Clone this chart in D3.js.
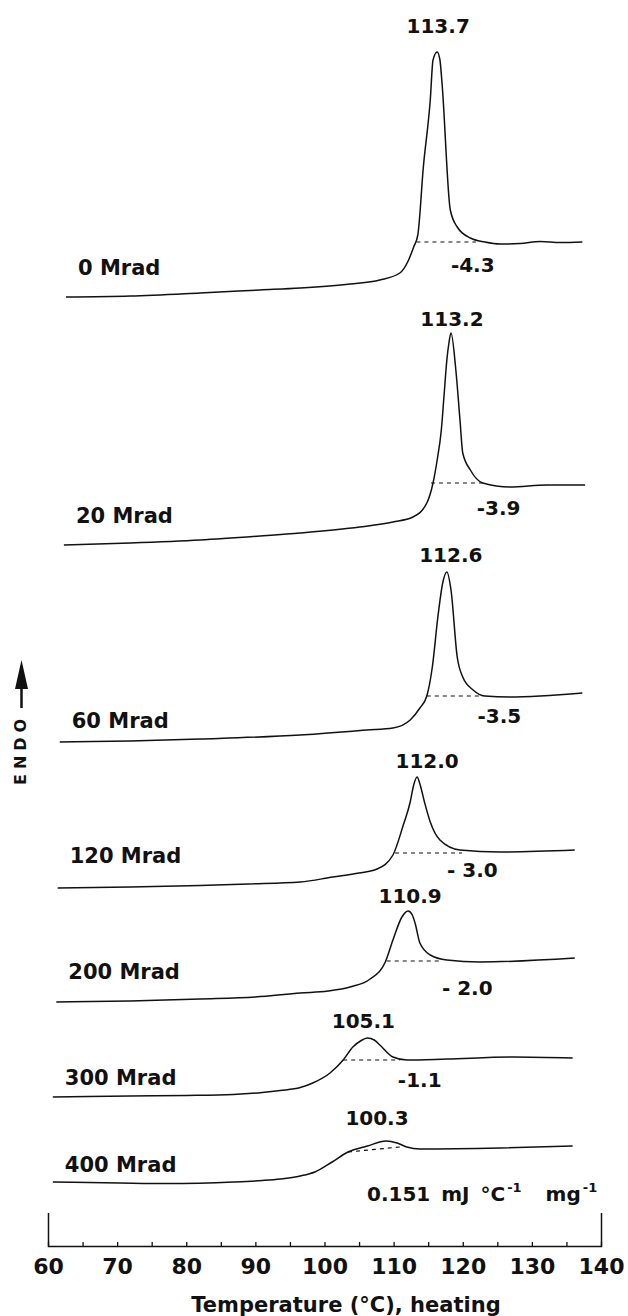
<!DOCTYPE html>
<html><head><meta charset="utf-8">
<script src="https://cdn.jsdelivr.net/npm/d3@7"></script>
<style>
body{margin:0;background:#fff}
svg{display:block}
text{font-family:"DejaVu Sans",sans-serif;font-weight:bold;fill:#111}
</style>
</head><body>
<svg id="chart" width="628" height="1316"></svg>
<script>
// ---------------- DATA ----------------
const doses = ["0 Mrad","20 Mrad","60 Mrad","120 Mrad","200 Mrad","300 Mrad","400 Mrad"];
const peakLabels = ["113.7","113.2","112.6","112.0","110.9","105.1","100.3"];
const enthalpyLabels = ["-4.3","-3.9","-3.5","- 3.0","- 2.0","-1.1"];
// vertical stacking offset of each trace (arbitrary heat-flow units)
const curveOffsets = [94.9, 70.1, 50.4, 35.8, 24.4, 14.9, 6.4];

const temps0 = [62.6,71.9,82.0,90.7,96.5,103.7,108.0,110.9,112.1,112.9,113.5,114.3,115.3,115.7,116.3,116.7,117.0,118.2,119.2,121.1,123.2,125.4,128.3,131.2,134.1,137.3];
const flow0  = [0,0.1,0.4,0.7,0.9,1.3,1.7,2.4,3.6,5.0,6.2,13.0,19.7,23.7,24.5,23.7,21.4,8.7,7.0,5.9,5.5,5.3,5.35,5.55,5.45,5.5];

const temps1 = [62.3,71.9,82.0,90.7,96.5,105.1,109.9,112.8,114.8,115.7,116.3,116.9,117.3,117.7,118.0,118.3,119.0,119.6,120.0,121.1,122.9,126.8,132.2,137.7];
const flow1  = [0,0.2,0.5,0.9,1.2,1.8,2.3,2.8,4.2,6.2,8.5,11.5,15.0,18.5,20.2,21.2,17.5,12.5,9.2,7.5,6.2,5.8,6.0,6.0];

const temps2 = [61.7,71.9,82.0,96.5,106.1,109.9,112.4,113.8,114.8,115.6,116.4,117.1,117.7,118.3,119.2,120.0,121.5,123.2,126.8,137.3];
const flow2  = [0,0.1,0.3,0.7,1.2,1.4,2.2,3.4,4.6,7.5,12.5,15.9,17.0,15.2,8.5,6.5,5.2,4.6,4.5,4.9];

const temps3 = [61.4,71.9,82.0,89.0,96.5,101.2,105.0,107.6,109.9,111.4,112.4,112.9,113.4,113.8,114.5,115.3,116.7,119.6,125.4,136.2];
const flow3  = [0,0.1,0.25,0.4,0.6,1.1,1.5,1.9,3.3,6.3,8.6,10.3,11.1,10.4,8.5,6.6,4.8,3.8,3.6,3.8];

const temps4 = [61.2,71.9,82.0,90.0,96.5,100.5,103.7,106.6,108.8,109.9,111.2,112.1,112.7,113.1,113.8,115.3,117.7,122.5,136.2];
const flow4  = [0,0.1,0.3,0.5,0.9,1.1,1.5,2.3,4.0,6.2,8.5,9.1,8.7,7.9,5.9,4.7,4.2,4.0,4.4];

const temps5 = [60.7,71.9,80.0,86.8,91.0,93.6,96.5,98.3,100.8,102.7,104.1,105.2,106.2,107.2,108.0,109.9,111.9,117.7,127.3,135.9];
const flow5  = [0,0.1,0.15,0.25,0.45,0.65,0.95,1.4,2.4,3.7,5.0,5.6,5.9,5.7,5.2,4.0,3.7,3.8,4.0,3.9];

const temps6 = [60.7,70.4,77.2,86.8,91.0,93.6,96.5,98.6,101.1,103.4,106.2,108.9,110.5,111.9,113.8,125.4,135.9];
const flow6  = [0,-0.1,-0.15,0,0.15,0.3,0.6,1.0,2.0,3.0,3.6,4.1,3.9,3.5,3.3,3.4,3.6];

// dashed interpolated baselines under each peak: [T start, T end, flow start, flow end]
const baselines = [
  [113.3,121.9,5.5,5.5],
  [115.4,122.9,6.2,6.2],
  [114.8,123.0,4.6,4.6],
  [110.2,119.9,3.5,3.5],
  [109.0,116.7,4.1,4.1],
  [102.7,110.9,3.7,3.7],
  [103.4,110.9,3.0,3.5]
];
const xTickValues = [60,65,70,75,80,85,90,95,100,105,110,115,120,125,130,135,140];
const xLabel = "Temperature (\u00B0C), heating";
const yLabel = "ENDO";
const scaleText = "0.151 mJ \u00B0C";
const scaleUnit = "mg";
const scaleExp = "-1";

// ---------------- LAYOUT ----------------
const temps = [temps0,temps1,temps2,temps3,temps4,temps5,temps6];
const flows = [flow0,flow1,flow2,flow3,flow4,flow5,flow6];
const axisY = 1246;
const x = d3.scaleLinear().domain([60,140]).range([48,601]);
const y = d3.scaleLinear().domain([0,100]).range([axisY, axisY-1000]);

const peakNudge  = [[1,-19],[1,-7],[4,-10],[10,-9],[2,-8],[-4,-10],[-9,-16]];
const dhNudge    = [[-25,30],[-6,32],[-6,27],[-15,24],[2,34],[-2,27]];
const labelDy    = [-22,-22,-14,-25,-23,-12,-10];

const svg = d3.select("#chart");
const line = d3.line().curve(d3.curveMonotoneX)
  .x(d=>x(d[0])).y(d=>y(d[1]));

temps.forEach((ts,i)=>{
  const off = curveOffsets[i];
  const pts = ts.map((t,j)=>[t, off + flows[i][j]]);
  svg.append("path").attr("d", line(pts))
    .attr("fill","none").attr("stroke","#111").attr("stroke-width",1.5)
    .attr("stroke-linejoin","round");

  const b = baselines[i];
  svg.append("line")
    .attr("x1", x(b[0])).attr("x2", x(b[1]))
    .attr("y1", y(off+b[2])).attr("y2", y(off+b[3]))
    .attr("stroke","#111").attr("stroke-width",1.2).attr("stroke-dasharray","4,4");

  // curve label
  svg.append("text").attr("x", x(ts[0]) + 12).attr("y", y(off) + labelDy[i])
    .attr("font-size",21).text(doses[i]);

  // peak label
  const fl = flows[i];
  const k = fl.indexOf(d3.max(fl));
  svg.append("text")
    .attr("x", x(ts[k]) + peakNudge[i][0]).attr("y", y(off+fl[k]) + peakNudge[i][1])
    .attr("text-anchor","middle").attr("font-size",20).text(peakLabels[i]);

  // enthalpy label
  if (i < enthalpyLabels.length) {
    svg.append("text")
      .attr("x", x(b[1]) + dhNudge[i][0]).attr("y", y(off+b[3]) + dhNudge[i][1])
      .attr("font-size",20).text(enthalpyLabels[i]);
  }
});

// x axis
const axis = d3.axisBottom(x).tickValues(xTickValues)
  .tickFormat(d => d % 10 === 0 ? d : "")
  .tickSizeInner(-4).tickSizeOuter(-33).tickPadding(12);
const gx = svg.append("g").attr("transform",`translate(0,${axisY})`).call(axis);
gx.select(".domain").attr("stroke","#111").attr("stroke-width",1.5);
gx.selectAll(".tick line").attr("stroke","#111").attr("stroke-width",1.3);
gx.selectAll(".tick text").attr("font-size",22)
  .attr("font-family","DejaVu Sans, sans-serif").attr("font-weight","bold").attr("fill","#111");

svg.append("text").attr("x",346).attr("y",1312).attr("text-anchor","middle")
  .attr("font-size",21).text(xLabel);

// scale annotation (calibration)
const ann = svg.append("text").attr("x",367).attr("y",1201)
  .attr("font-size",20).attr("word-spacing",4);
ann.append("tspan").text(scaleText);
ann.append("tspan").attr("font-size",13).attr("dx",2).attr("dy",-9).text(scaleExp);
ann.append("tspan").attr("dx",24).attr("dy",9).text(scaleUnit);
ann.append("tspan").attr("font-size",13).attr("dx",2).attr("dy",-9).text(scaleExp);

// ENDO arrow
svg.append("text").attr("transform","translate(26,785) rotate(-90)")
  .attr("font-size",16).attr("letter-spacing",5).text(yLabel);
svg.append("line").attr("x1",21.5).attr("x2",21.5).attr("y1",708).attr("y2",680)
  .attr("stroke","#111").attr("stroke-width",2.5);
svg.append("path").attr("d","M15,689 L21.5,660 L28,689 Z").attr("fill","#111");
</script>
</body></html>
